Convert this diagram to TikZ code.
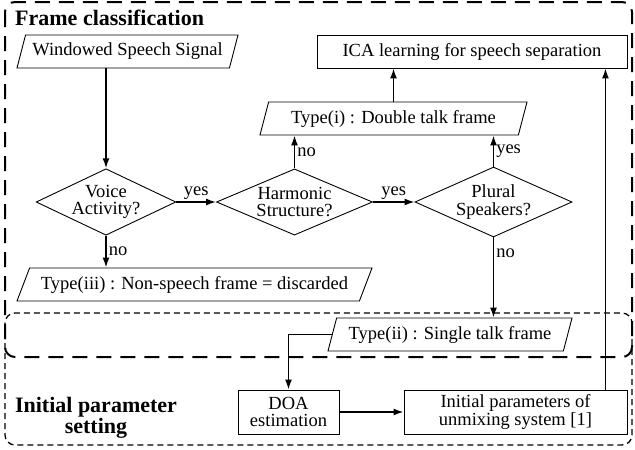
\documentclass[tikz,border=0pt]{standalone}
\usepackage{fontspec}
\setmainfont{Liberation Serif}
\usetikzlibrary{arrows.meta,positioning,shapes.geometric}

\begin{document}
\begin{tikzpicture}[x=1pt,y=-1pt,font=\fontsize{18.5}{17.5}\selectfont,
box/.style={draw,line width=0.9pt,align=center,inner sep=1pt},
io/.style={draw,line width=0.9pt,trapezium,trapezium left angle=70,trapezium right angle=110,trapezium stretches body,minimum height=33pt,inner xsep=2pt},
dec/.style={draw,line width=0.9pt,diamond,aspect=2.1,inner sep=0pt,align=center,minimum height=66pt},
arr/.style={-{Latex[length=10pt,width=7pt]},line width=1.5pt},
lbl/.style={inner sep=2pt},
frame/.style={line width=2pt,dash pattern=on 15pt off 9pt,rounded corners=10pt},
subframe/.style={line width=1.3pt,dash pattern=on 6pt off 4pt,rounded corners=10pt},
title/.style={font=\fontsize{22}{19.5}\selectfont\bfseries,align=center,inner sep=0pt}]
\useasboundingbox (0,0) rectangle (635,450);
% the two dashed groups
\draw[frame] (5,2) rectangle (632,357);
\draw[subframe] (5,313) rectangle (632,445);
\node[title,anchor=base west] (fctitle) at (15,25) {Frame classification};
\node[title] (iptitle) at (96,418) {Initial parameter\\setting};
% flow nodes
\node[io,minimum width=221pt] (wss) at (127.5,51.5) {Windowed Speech Signal};
\node[box,minimum width=310pt,minimum height=33pt] (ica) at (472,51.5) {ICA learning for speech separation};
\node[io,minimum width=267pt] (ti) at (393.5,118.5) {Type(i) : Double talk frame};
\node[dec,minimum width=131pt] (voice) at (106,202) {Voice\\Activity?};
\node[dec,minimum width=156pt] (harm) at (294.5,202) {Harmonic\\Structure?};
\node[dec,minimum width=157pt] (plural) at (493.5,202) {Plural\\Speakers?};
\node[io,trapezium left angle=62,trapezium right angle=118,minimum width=355pt] (tiii) at (194.5,284.5) {Type(iii) : Non-speech frame = discarded};
\node[io,minimum width=244pt] (tii) at (450,334.5) {Type(ii) : Single talk frame};
\node[box,minimum width=101pt,minimum height=44pt] (doa) at (288.5,412) {DOA\\estimation};
\node[box,minimum width=223pt,minimum height=44pt] (init) at (515.5,412) {Initial parameters of\\unmixing system [1]};
% connectors
\draw[arr] (voice.north |- wss.south) -- (voice.north);
\draw[arr] (voice.east) -- node[lbl,above] {yes} (harm.west);
\draw[arr] (harm.east) -- node[lbl,above] {yes} (plural.west);
\draw[arr] (harm.north) -- node[lbl,right] {no} (harm.north |- ti.south);
\draw[arr] (plural.north) -- node[lbl,right] {yes} (plural.north |- ti.south);
\draw[arr] (ti.north) -- (ti.north |- ica.south);
\draw[arr] (voice.south) -- node[lbl,right] {no} (voice.south |- tiii.north);
\draw[arr] (plural.south) -- node[lbl,right,pos=0.2] {no} (plural.south |- tii.north);
\draw[arr] (tii.west) -| (doa.north);
\draw[arr] (doa.east) -- (init.west);
\draw[arr] ([xshift=-22pt]init.north east) -- ([xshift=-22pt]init.north east |- ica.south);
\end{tikzpicture}
\end{document}
